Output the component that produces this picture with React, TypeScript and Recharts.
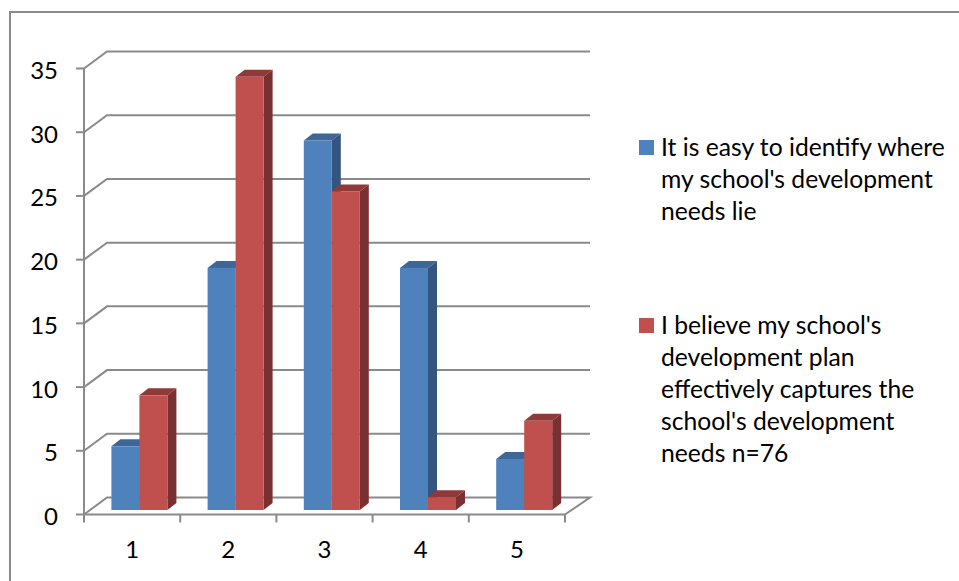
import React from 'react';
import { BarChart, Bar, XAxis, YAxis, CartesianGrid, Legend } from 'recharts';

const categories = ['1', '2', '3', '4', '5'];
const easyToIdentify = [5, 19, 29, 19, 4];
const planCaptures = [9, 34, 25, 1, 7];
const valueTicks = [0, 5, 10, 15, 20, 25, 30, 35];

const easyName = "It is easy to identify where\nmy school's development\nneeds lie";
const planName =
  "I believe my school's\ndevelopment plan\neffectively captures the\nschool's development\nneeds n=76";

const data = categories.map((name, i) => ({
  name,
  easy: easyToIdentify[i],
  plan: planCaptures[i],
}));

const FONT = 'Lato, sans-serif';
const LINE = '#8a8a8a';

// the bars stand a little behind the front plane of the axes
const INSET_X = 7.4;
const INSET_Y = 4.5;
const DEPTH_X = 9;
const DEPTH_Y = 7;
const BAND = 96.2;

function bar3d(front: string, top: string, side: string) {
  return (props: any) => {
    const x = props.x + INSET_X;
    const y = props.y - INSET_Y;
    const { width: w, height: h } = props;
    return (
      <g>
        <polygon
          points={`${x},${y} ${x + DEPTH_X},${y - DEPTH_Y} ${x + w + DEPTH_X},${y - DEPTH_Y} ${x + w},${y}`}
          fill={top}
        />
        <polygon
          points={`${x + w},${y} ${x + w + DEPTH_X},${y - DEPTH_Y} ${x + w + DEPTH_X},${y + h - DEPTH_Y} ${x + w},${y + h}`}
          fill={side}
        />
        <rect x={x} y={y} width={w} height={h} fill={front} />
      </g>
    );
  };
}

// gridline runs back from the axis, then along the back wall
function wallLine(props: any) {
  const { x1, y1, x2, index } = props;
  const bx = x1 + 23;
  const by = y1 - 17;
  const isFloor = y1 === props.y + props.height;
  let points = `${x1},${y1} ${bx},${by} ${x2 + 25},${by}`;
  if (isFloor) points += ` ${x2},${y1}`;
  return <polyline key={index} points={points} fill="none" stroke={LINE} strokeWidth={2} />;
}

// category ticks sit between the bands, labels stay in the middle
function CategoryTick({ x, y, payload, index }: any) {
  const top = y - 19;
  const isLast = index === categories.length - 1;
  return (
    <g>
      <line x1={x - BAND / 2} x2={x - BAND / 2} y1={top} y2={top + 8} stroke={LINE} strokeWidth={2} />
      {isLast && <line x1={x + BAND / 2} x2={x + BAND / 2} y1={top} y2={top + 8} stroke={LINE} strokeWidth={2} />}
      <text x={x} y={y} dy={24} textAnchor="middle" fontSize={24} fontFamily={FONT} fill="#000">
        {payload.value}
      </text>
    </g>
  );
}

function LegendBox({ payload }: any) {
  return (
    <div style={{ fontFamily: FONT, fontSize: 24.7, lineHeight: '32px', color: '#000' }}>
      {(payload || []).map((item: any, i: number) => (
        <div key={i} style={{ display: 'flex', marginBottom: 82 }}>
          <span
            style={{
              width: 15,
              height: 15,
              marginTop: 9,
              marginRight: 7,
              background: item.color,
              flex: 'none',
            }}
          />
          <span style={{ whiteSpace: 'pre-line' }}>{item.value}</span>
        </div>
      ))}
    </div>
  );
}

export default function App() {
  const tickStyle = { fontSize: 24, fill: '#000', fontFamily: FONT, dy: 2 };
  const axisStyle = { stroke: LINE, strokeWidth: 2 };
  return (
    <div style={{ position: 'absolute', left: 0, top: 0, width: 959, height: 581, background: '#fff', overflow: 'hidden' }}>
      <div
        style={{
          position: 'absolute',
          left: 9,
          top: 11,
          width: 960,
          height: 580,
          borderLeft: `2px solid ${LINE}`,
          borderTop: `2px solid ${LINE}`,
        }}
      />
      <BarChart
        width={959}
        height={581}
        data={data}
        barSize={28}
        barGap={0}
        margin={{ top: 68.5, right: 74, bottom: 0, left: 0 }}
        style={{ position: 'absolute', left: 0, top: 0 }}
      >
        <CartesianGrid vertical={false} horizontal={wallLine} />
        <XAxis
          dataKey="name"
          height={66.5}
          interval={0}
          tick={<CategoryTick />}
          tickSize={8}
          tickMargin={11}
          tickLine={false}
          axisLine={axisStyle}
        />
        <YAxis
          width={84}
          domain={[0, 35]}
          ticks={valueTicks}
          interval={0}
          tick={tickStyle}
          tickSize={8}
          tickMargin={18}
          axisLine={axisStyle}
          tickLine={axisStyle}
        />
        <Legend
          layout="vertical"
          align="right"
          verticalAlign="top"
          itemSorter="dataKey"
          content={<LegendBox />}
          wrapperStyle={{ left: 639, top: 131, width: 320 }}
        />
        <Bar
          dataKey="easy"
          name={easyName}
          fill="#4f81bd"
          isAnimationActive={false}
          shape={bar3d('#4f81bd', '#3e6797', '#33557f')}
        />
        <Bar
          dataKey="plan"
          name={planName}
          fill="#c0504d"
          isAnimationActive={false}
          shape={bar3d('#c0504d', '#8f3a38', '#7b3030')}
        />
      </BarChart>
    </div>
  );
}
